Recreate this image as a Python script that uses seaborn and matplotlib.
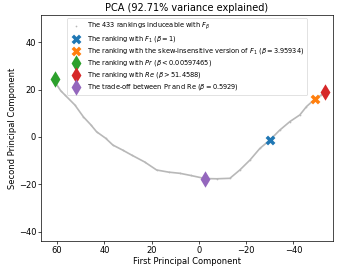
import pandas as pd
import numpy as np
import matplotlib.pyplot as plt
import seaborn as sns

## curve of rankings (PC1 / PC2)
curve_pc1 = [60.9, 60.9, 58.5, 56.7, 52.5, 48.9, 45.8, 43.3, 39.5, 36.4, 32.3, 28.5,
             23.0, 17.9, 12.8, 8.0, 3.5, -2.6, -7.5, -13.1, -17.3, -21.6, -25.8,
             -30.0, -34.2, -38.5, -42.7, -45.5, -49.0, -51.5, -53.4]
curve_pc2 = [24.4, 21.9, 19.5, 17.7, 13.5, 8.5, 5.2, 2.2, -0.5, -3.4, -5.5, -7.6,
             -10.5, -13.9, -14.8, -15.3, -16.2, -17.5, -17.6, -17.4, -13.9, -9.7, -4.8,
             -1.3, 2.9, 6.5, 9.3, 12.8, 15.9, 17.5, 18.8]

## special rankings
special_labels = [
    "The ranking with $F_1$ ($\\beta = 1$)",
    "The ranking with the skew-insensitive version of $F_1$ ($\\beta = 3.95934$)",
    "The ranking with $Pr$ ($\\beta < 0.00597465$)",
    "The ranking with $Re$ ($\\beta > 51.4588$)",
    "The trade-off between Pr and Re ($\\beta = 0.5929$)",
]
special_pc1 = [-30.0, -49.0, 60.9, -53.4, -2.6]
special_pc2 = [-1.3, 15.9, 24.4, 18.8, -17.5]
special_markers = ['X', 'X', 'd', 'd', 'd']
special_colors = ['tab:blue', 'tab:orange', 'tab:green', 'tab:red', 'tab:purple']

df_curve = pd.DataFrame({'pc1': curve_pc1, 'pc2': curve_pc2})

fig, ax = plt.subplots(figsize=(3.45, 2.72), dpi=100)
fig.subplots_adjust(left=0.119, right=0.965, top=0.945, bottom=0.114)

sns.lineplot(data=df_curve, x='pc1', y='pc2', sort=False, color='#b8b8b8', lw=1.2, ax=ax, legend=False)
sns.scatterplot(data=df_curve, x='pc1', y='pc2', color='#b8b8b8', s=1.5, linewidth=0, ax=ax,
                label="The 433 rankings induceable with $F_\\beta$")

for lab, x, y, m, c in zip(special_labels, special_pc1, special_pc2, special_markers, special_colors):
    size = 50 if m == 'X' else 70
    sns.scatterplot(x=[x], y=[y], marker=m, color=c, s=size, linewidth=0, ax=ax, label=lab, zorder=3)

ax.set_xlim(66.8, -56.7)
ax.set_ylim(-43.8, 51.4)
ax.set_xticks([60, 40, 20, 0, -20, -40])
ax.set_yticks([40, 20, 0, -20, -40])
ax.tick_params(labelsize=6, length=2, width=0.5, pad=1.5)
for s in ax.spines.values():
    s.set_linewidth(0.5)
ax.set_title('PCA (92.71% variance explained)', fontsize=7, pad=3)
ax.set_xlabel('First Principal Component', fontsize=6, labelpad=1.5)
ax.set_ylabel('Second Principal Component', fontsize=6, labelpad=1.5)
leg = ax.legend(loc='upper center', fontsize=4.75, framealpha=0.8, borderpad=0.4,
                labelspacing=0.3, handletextpad=0.6)
leg.get_frame().set_linewidth(0.5)

plt.savefig('out.png', dpi=100)
